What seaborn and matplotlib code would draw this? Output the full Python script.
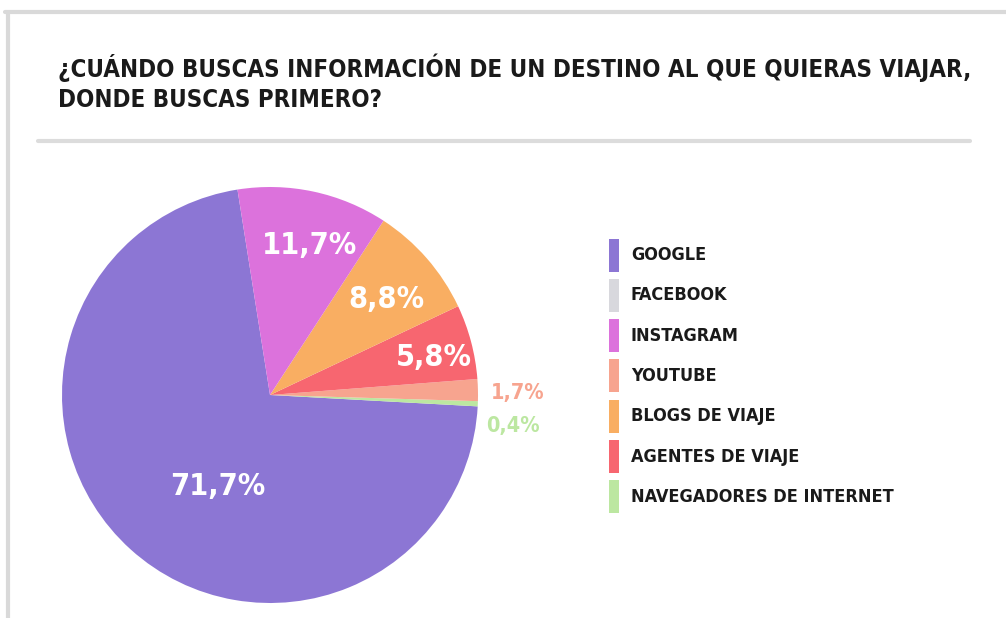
import numpy as np
import matplotlib
matplotlib.use("Agg")
import matplotlib.pyplot as plt
import seaborn as sns
from matplotlib.patches import Rectangle
from matplotlib.lines import Line2D

sns.set_theme(style="white")
plt.rcParams["font.family"] = ["DejaVu Sans"]

# ===========================
# DATOS
# ===========================
legend_labels = ["GOOGLE", "FACEBOOK", "INSTAGRAM", "YOUTUBE",
                 "BLOGS DE VIAJE", "AGENTES DE VIAJE", "NAVEGADORES DE INTERNET"]
legend_colors = ["#8c76d4", "#d8d8dd", "#dc72dc", "#f7a48f",
                 "#f9ae62", "#f76670", "#bce7a1"]

# orden de las porciones en el pastel (antihorario desde arriba)
pie_labels = ["GOOGLE", "FACEBOOK", "NAVEGADORES DE INTERNET", "YOUTUBE",
              "AGENTES DE VIAJE", "BLOGS DE VIAJE", "INSTAGRAM"]
pie_values = [71.7, 0.0, 0.4, 1.7, 5.8, 8.8, 11.7]
pct_text = ["71,7%", "", "0,4%", "1,7%", "5,8%", "8,8%", "11,7%"]

# posiciones de las etiquetas (coordenadas del pastel, radio 1)
label_xy = [(-0.25, -0.44), None, (1.17, -0.15), (1.19, 0.01),
            (0.79, 0.18), (0.56, 0.46), (0.19, 0.72)]
label_size = [22, 0, 15.5, 15.5, 22, 22, 22]
label_color = ["white", None, "#bce7a1", "#f7a48f", "white", "white", "white"]

color_map = dict(zip(legend_labels, legend_colors))

# ===========================
# FIGURA
# ===========================
fig = plt.figure(figsize=(10.06, 6.18), dpi=100)
W, H = 1006, 618

# marco gris
fig.add_artist(Line2D([5 / W, 1], [1 - 12 / H, 1 - 12 / H], color="#d9d9d9", lw=3))
fig.add_artist(Line2D([8 / W, 8 / W], [0, 1 - 12 / H], color="#d9d9d9", lw=3))
fig.add_artist(Line2D([38 / W, 970 / W], [1 - 141 / H, 1 - 141 / H], color="#dcdcdc", lw=3))

title_kw = dict(fontsize=17.3, fontweight="bold", fontstretch="condensed",
                color="#1a1a1a", va="center", ha="left")
fig.text(58 / W, 1 - 68 / H, "¿CUÁNDO BUSCAS INFORMACIÓN DE UN DESTINO AL QUE QUIERAS VIAJAR,", **title_kw)
fig.text(58 / W, 1 - 100 / H, "DONDE BUSCAS PRIMERO?", **title_kw)

# pastel
cx, cy, r = 270, 395, 208
ax = fig.add_axes([(cx - r) / W, (H - cy - r) / H, 2 * r / W, 2 * r / H])
ax.pie(pie_values, colors=[color_map[l] for l in pie_labels],
       startangle=99, counterclock=True, radius=1,
       wedgeprops=dict(linewidth=0))
ax.set_xlim(-1, 1)
ax.set_ylim(-1, 1)
ax.set_aspect("auto")
ax.axis("off")

for txt, xy, fs, col in zip(pct_text, label_xy, label_size, label_color):
    if not txt:
        continue
    ax.text(xy[0], xy[1], txt, fontsize=fs, fontweight="bold",
            fontstretch="condensed", color=col, ha="center", va="center",
            clip_on=False)

# leyenda
for i, (lab, col) in enumerate(zip(legend_labels, legend_colors)):
    yc = 1 - (255 + i * 40.3) / H
    fig.add_artist(Rectangle((609 / W, yc - 16.5 / H), 10 / W, 33 / H,
                             transform=fig.transFigure, color=col, lw=0))
    fig.text(631 / W, yc, lab, fontsize=13, fontweight="bold",
             fontstretch="condensed", color="#1a1a1a", va="center", ha="left")

fig.savefig("out.png", dpi=100, facecolor="white")
